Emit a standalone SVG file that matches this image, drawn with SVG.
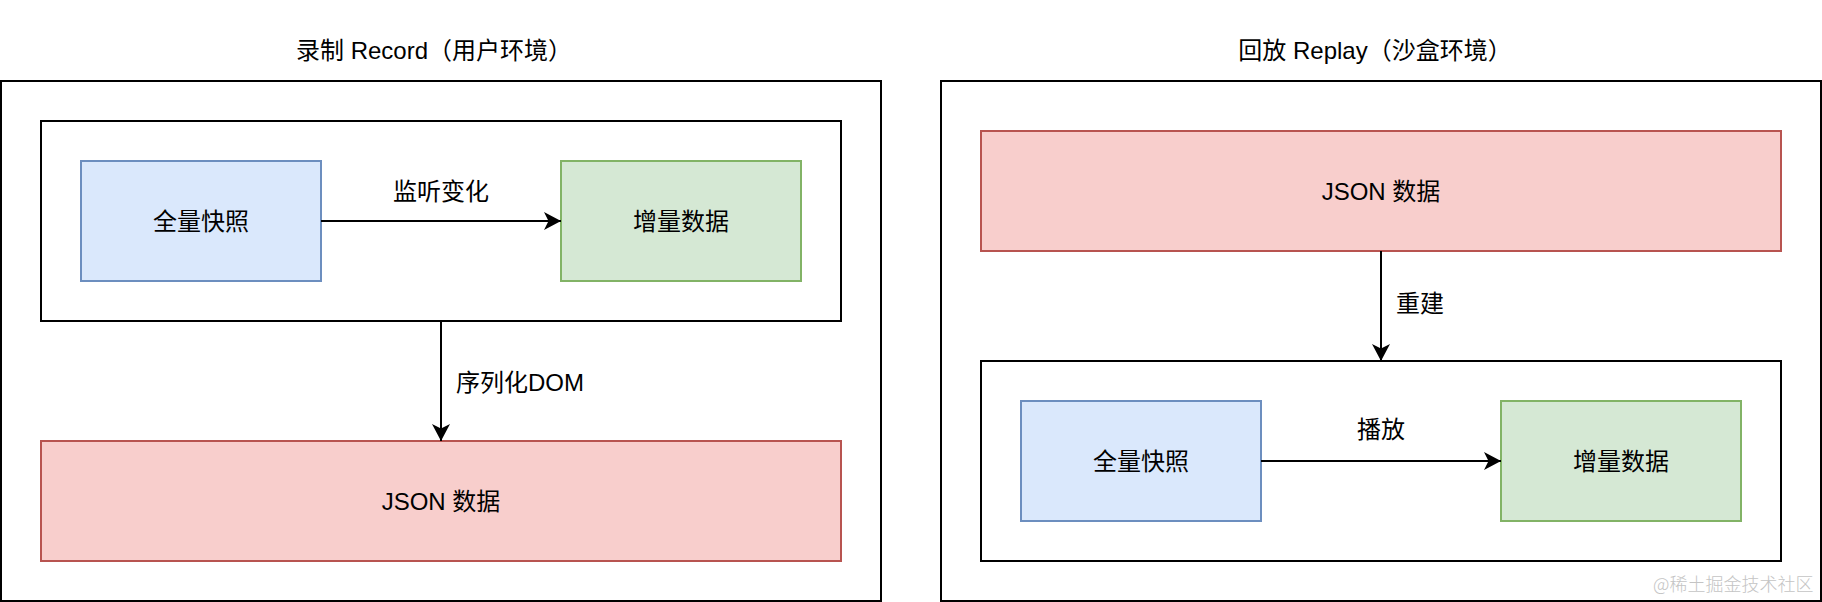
<svg xmlns="http://www.w3.org/2000/svg" width="1822" height="602" viewBox="0 0 1822 602">
<style>
text{font-family:"Liberation Sans","Noto Sans CJK SC",sans-serif;fill:#000;text-anchor:middle;dominant-baseline:central}
.title{font-size:24px}
.lbl{font-size:24px}
.frame{fill:#fff;stroke:#000;stroke-width:2}
.group{fill:none;stroke:#000;stroke-width:2}
.blue{fill:#dae8fc;stroke:#6c8ebf;stroke-width:2}
.green{fill:#d5e8d4;stroke:#82b366;stroke-width:2}
.red{fill:#f8cecc;stroke:#b85450;stroke-width:2}
.edge{fill:none;stroke:#000;stroke-width:2}
.wm{font-family:"Noto Sans CJK SC",sans-serif;font-size:18px;fill:#c4c4c4;font-weight:300;text-anchor:start}
</style>
<defs>
<marker id="arrow" markerUnits="userSpaceOnUse" markerWidth="18" markerHeight="18" refX="17" refY="9" orient="auto">
<path d="M0,0 L17,9 L0,18 L4.5,9 Z" fill="#000"/>
</marker>
</defs>
<rect width="1822" height="602" fill="#fff"/>

<g id="record-frame">
<text class="title" x="434" y="50">录制 Record（用户环境）</text>
<rect class="frame" x="1" y="81" width="880" height="520"/>
</g>
<g id="record-group"><rect class="group" x="41" y="121" width="800" height="200"/></g>
<g id="record-snapshot"><rect class="blue" x="81" y="161" width="240" height="120"/><text class="lbl" x="201" y="221">全量快照</text></g>
<g id="record-incremental"><rect class="green" x="561" y="161" width="240" height="120"/><text class="lbl" x="681" y="221">增量数据</text></g>
<g id="record-json"><rect class="red" x="41" y="441" width="800" height="120"/><text class="lbl" x="441" y="501">JSON 数据</text></g>

<g id="replay-frame">
<text class="title" x="1375" y="50">回放 Replay（沙盒环境）</text>
<rect class="frame" x="941" y="81" width="880" height="520"/>
</g>
<g id="replay-json"><rect class="red" x="981" y="131" width="800" height="120"/><text class="lbl" x="1381" y="191">JSON 数据</text></g>
<g id="replay-group"><rect class="group" x="981" y="361" width="800" height="200"/></g>
<g id="replay-snapshot"><rect class="blue" x="1021" y="401" width="240" height="120"/><text class="lbl" x="1141" y="461">全量快照</text></g>
<g id="replay-incremental"><rect class="green" x="1501" y="401" width="240" height="120"/><text class="lbl" x="1621" y="461">增量数据</text></g>

<g id="connectors">
<path class="edge" d="M321,221 L561,221" marker-end="url(#arrow)"/>
<text class="lbl" x="441" y="191">监听变化</text>
<path class="edge" d="M441,321 L441,441" marker-end="url(#arrow)"/>
<text class="lbl" x="456" y="382" style="text-anchor:start">序列化DOM</text>
<path class="edge" d="M1381,251 L1381,361" marker-end="url(#arrow)"/>
<text class="lbl" x="1396" y="303" style="text-anchor:start">重建</text>
<path class="edge" d="M1261,461 L1501,461" marker-end="url(#arrow)"/>
<text class="lbl" x="1381" y="429">播放</text>
</g>

<text class="wm" x="1653" y="583">@稀土掘金技术社区</text>
</svg>
